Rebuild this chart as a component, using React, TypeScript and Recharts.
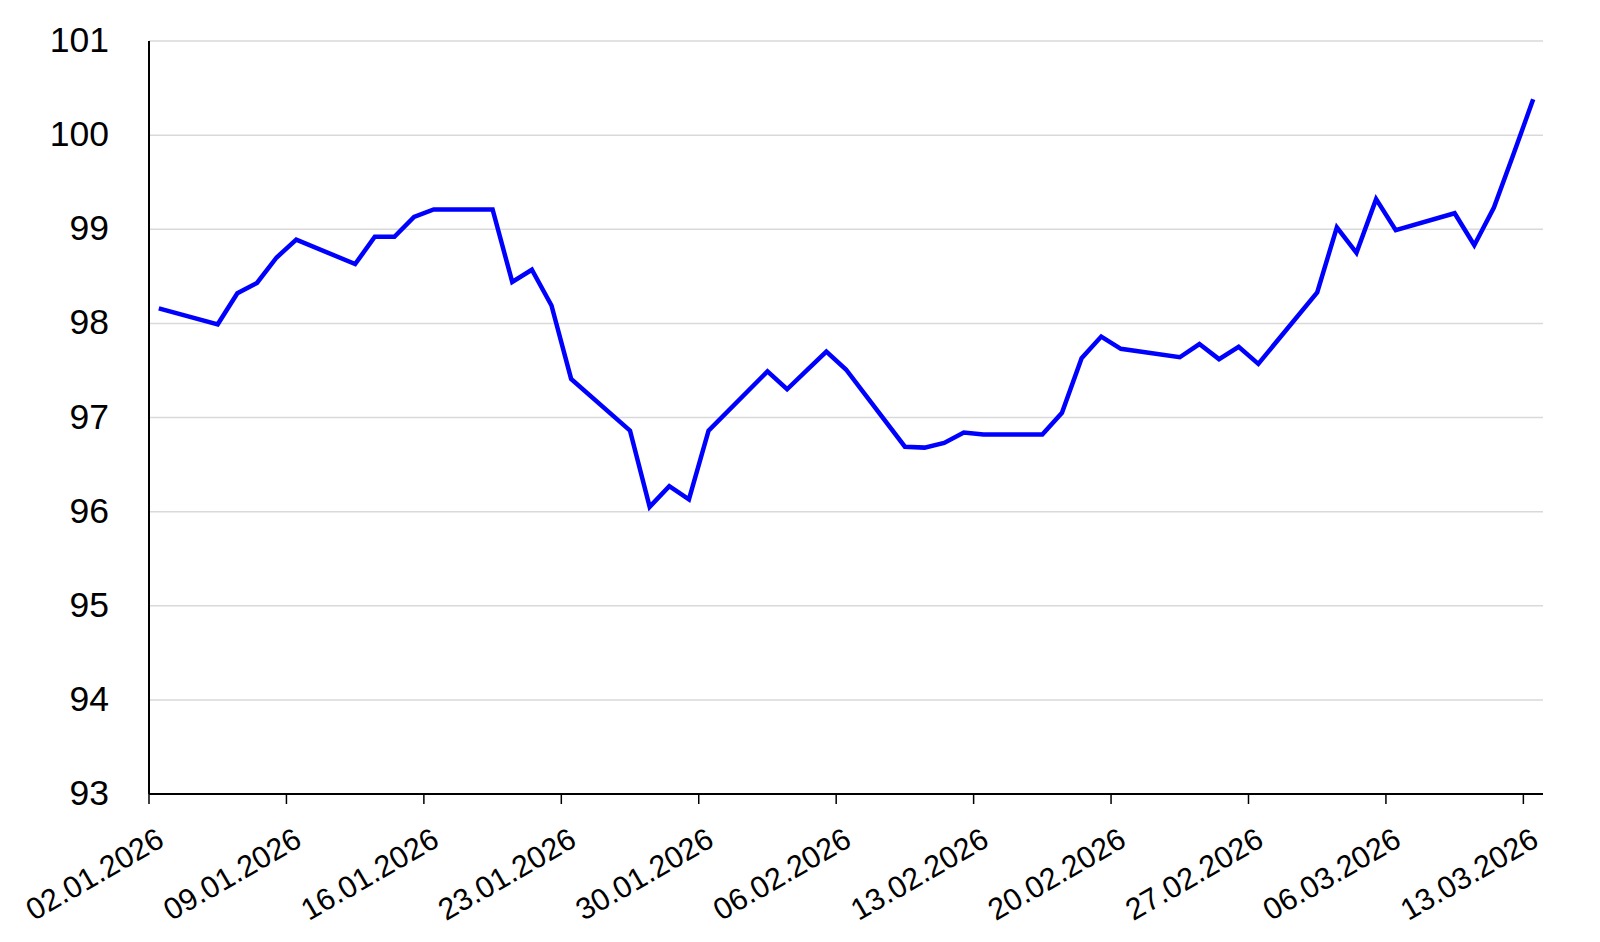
import React from 'react';
import { LineChart, Line, XAxis, YAxis, CartesianGrid } from 'recharts';

const dates = [
  '02.01.2026', '05.01.2026', '06.01.2026', '07.01.2026', '08.01.2026', '09.01.2026',
  '12.01.2026', '13.01.2026', '14.01.2026', '15.01.2026', '16.01.2026',
  '19.01.2026', '20.01.2026', '21.01.2026', '22.01.2026', '23.01.2026',
  '26.01.2026', '27.01.2026', '28.01.2026', '29.01.2026', '30.01.2026',
  '02.02.2026', '03.02.2026', '04.02.2026', '05.02.2026', '06.02.2026',
  '09.02.2026', '10.02.2026', '11.02.2026', '12.02.2026', '13.02.2026',
  '16.02.2026', '17.02.2026', '18.02.2026', '19.02.2026', '20.02.2026',
  '23.02.2026', '24.02.2026', '25.02.2026', '26.02.2026', '27.02.2026',
  '02.03.2026', '03.03.2026', '04.03.2026', '05.03.2026', '06.03.2026',
  '09.03.2026', '10.03.2026', '11.03.2026', '12.03.2026', '13.03.2026',
];

const values = [
  98.16, 97.99, 98.32, 98.43, 98.70, 98.89,
  98.63, 98.92, 98.92, 99.13, 99.21,
  99.21, 98.44, 98.57, 98.19, 97.41,
  96.86, 96.05, 96.27, 96.13, 96.86,
  97.49, 97.30, 97.50, 97.70, 97.51,
  96.69, 96.68, 96.73, 96.84, 96.82,
  96.82, 97.05, 97.63, 97.86, 97.73,
  97.64, 97.78, 97.62, 97.75, 97.57,
  98.33, 99.02, 98.75, 99.32, 98.99,
  99.17, 98.83, 99.23, 99.80, 100.38,
];

const tickLabels = [
  '02.01.2026', '09.01.2026', '16.01.2026', '23.01.2026', '30.01.2026', '06.02.2026',
  '13.02.2026', '20.02.2026', '27.02.2026', '06.03.2026', '13.03.2026',
];

const yTicks = [93, 94, 95, 96, 97, 98, 99, 100, 101];

const domainStartLabel = '02.01.2026';
const domainEndLabel = '14.03.2026';

const DAY = 86400000;
const toDay = (s: string) => {
  const [d, m, y] = s.split('.').map(Number);
  return Date.UTC(y, m - 1, d) / DAY;
};
const origin = toDay(domainStartLabel);
const data = dates.map((d, i) => ({ x: toDay(d) - origin + 0.5, v: values[i] }));
const xTicks = tickLabels.map((t) => toDay(t) - origin);
const xDomain = [0, toDay(domainEndLabel) - origin];

const FONT = '"Liberation Sans", Arial, Helvetica, sans-serif';

const XTick = (props: any) => {
  const { x, y, payload } = props;
  const idx = xTicks.indexOf(payload.value);
  const tx = x + 17;
  const ty = y + 39;
  return (
    <text
      x={tx}
      y={ty}
      textAnchor="end"
      transform={`rotate(-30, ${tx}, ${ty})`}
      fontSize={30.5}
      fontFamily={FONT}
      fill="#000"
    >
      {idx >= 0 ? tickLabels[idx] : ''}
    </text>
  );
};

const YTick = (props: any) => {
  const { x, y, payload } = props;
  return (
    <text
      x={x}
      y={y + 11}
      textAnchor="end"
      fontSize={35.5}
      fontFamily={FONT}
      fill="#000"
    >
      {payload.value}
    </text>
  );
};

export default function App() {
  return (
    <div style={{ position: 'absolute', left: 0, top: 0 }}>
      <LineChart
        width={1600}
        height={942}
        data={data}
        margin={{ top: 41, right: 57, bottom: 0, left: 0 }}
      >
        <CartesianGrid vertical={false} stroke="#d9d9d9" strokeWidth={1.5} />
        <XAxis
          dataKey="x"
          type="number"
          domain={xDomain}
          ticks={xTicks}
          interval={0}
          allowDataOverflow
          height={148}
          tickSize={10}
          axisLine={{ stroke: '#000', strokeWidth: 2 }}
          tickLine={{ stroke: '#000', strokeWidth: 1.5 }}
          tick={<XTick />}
        />
        <YAxis
          type="number"
          domain={[93, 101]}
          ticks={yTicks}
          interval={0}
          width={149}
          tickSize={0}
          tickMargin={40}
          tickLine={false}
          axisLine={{ stroke: '#000', strokeWidth: 2 }}
          tick={<YTick />}
        />
        <Line
          type="linear"
          dataKey="v"
          stroke="#0000ff"
          strokeWidth={4.5}
          dot={false}
          isAnimationActive={false}
        />
      </LineChart>
    </div>
  );
}
